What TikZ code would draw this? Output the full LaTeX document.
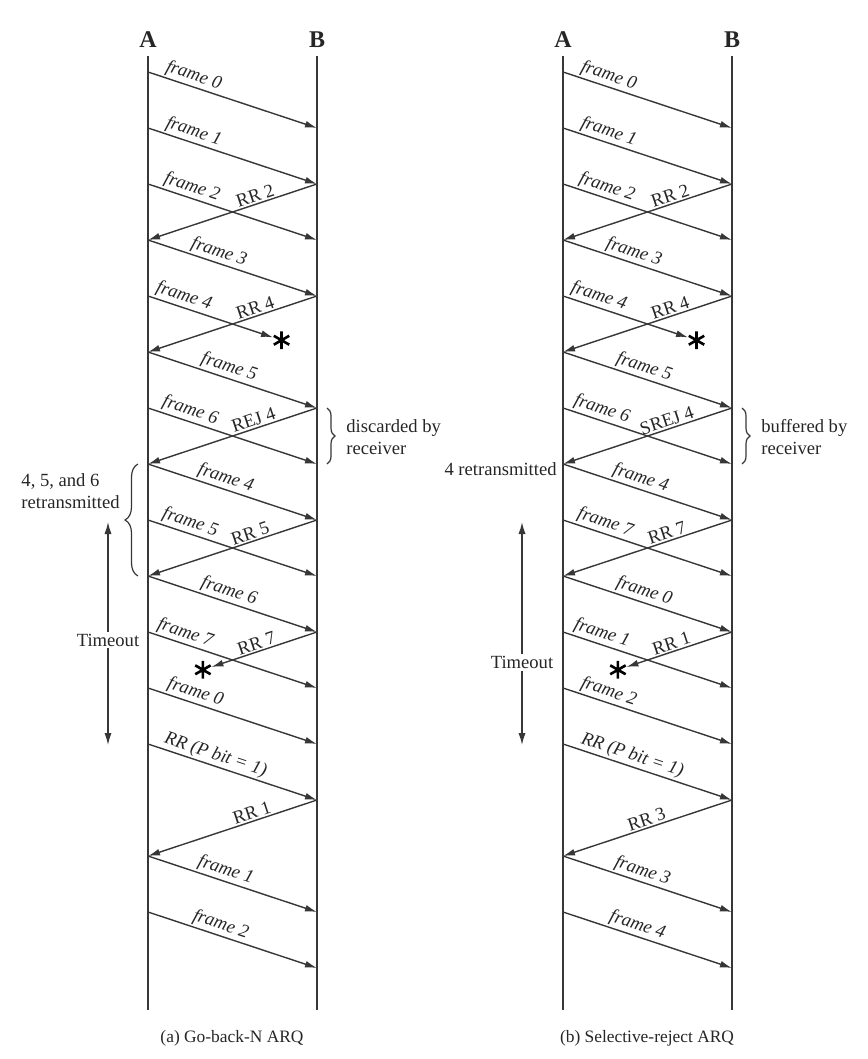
\documentclass[tikz,border=0pt]{standalone}
\usepackage{fontspec}
\setmainfont{Liberation Serif}
\usetikzlibrary{arrows.meta,positioning,calc,decorations.pathreplacing}
\definecolor{lngray}{RGB}{55,55,55}
\newcommand\lblsize{\fontsize{9.3}{11}\selectfont}
% star where a frame gets lost
\newcommand\lostmark[2]{%
  \node[lost] (#1) at (#2) {};
  \draw[starpen] (#1.90) -- (#1.270) (#1.30) -- (#1.210) (#1.150) -- (#1.330);}

\begin{document}
\begin{tikzpicture}[x=0.5pt, y=-0.5pt, every node/.style={font=\lblsize, text=black!85},
  life/.style={draw=lngray, line width=0.75pt},
  msg/.style={draw=lngray, line width=0.7pt, -{Latex[length=6pt,width=3.4pt]}},
  tmo/.style={draw=lngray, line width=0.75pt, {Latex[length=6pt,width=3.6pt]}-{Latex[length=6pt,width=3.6pt]}},
  frm/.style={above, sloped, inner sep=0.8pt, font=\lblsize\itshape},
  ack/.style={above, sloped, inner sep=0.8pt},
  station/.style={font=\fontsize{12}{14}\selectfont\bfseries, inner sep=4pt},
  lost/.style={circle, inner sep=0pt, minimum size=8.5pt},
  starpen/.style={draw=black, line width=1.3pt},
  brc/.style={draw=lngray, line width=0.6pt, decorate, decoration={brace, amplitude=#1}},
  note/.style={align=left, inner sep=0pt},
  caption/.style={font=\fontsize{8.7}{10}\selectfont}]
\useasboundingbox (0,0) rectangle (867,1059);

% (a) Go-back-N ARQ
\begin{scope}[name prefix=L-]
\foreach \t in {0,...,16} {
  \coordinate (a\t) at (148,{72+56*\t});
  \coordinate (b\t) at (317,{72+56*\t});
}
\node[station] (A) at (148,40) {A};
\node[station] (B) at (317,40) {B};
\coordinate (aend) at (148,1010);
\coordinate (bend) at (317,1010);
\draw[life] (A) -- (aend);
\draw[life] (B) -- (bend);
\draw[msg] (a0) -- node[frm, pos=0.25] {frame 0} (b1);
\draw[msg] (a1) -- node[frm, pos=0.25] {frame 1} (b2);
\draw[msg] (a2) -- node[frm, pos=0.24] {frame 2} (b3);
\draw[msg] (b2) -- node[ack, pos=0.35] {RR 2} (a3);
\draw[msg] (a3) -- node[frm, pos=0.4] {frame 3} (b4);
\lostmark{x1}{$(a4)!0.79!(b5)$}
\draw[msg] (a4) -- node[frm, pos=0.26] {frame 4} (x1);
\draw[msg] (b4) -- node[ack, pos=0.35] {RR 4} (a5);
\draw[msg] (a5) -- node[frm, pos=0.46] {frame 5} (b6);
\draw[msg] (a6) -- node[frm, pos=0.23] {frame 6} (b7);
\draw[msg] (b6) -- node[ack, pos=0.36] {REJ 4} (a7);
\draw[msg] (a7) -- node[frm, pos=0.44] {frame 4} (b8);
\draw[msg] (a8) -- node[frm, pos=0.23] {frame 5} (b9);
\draw[msg] (b8) -- node[ack, pos=0.38] {RR 5} (a9);
\draw[msg] (a9) -- node[frm, pos=0.46] {frame 6} (b10);
\draw[msg] (a10) -- node[frm, pos=0.2] {frame 7} (b11);
\lostmark{x2}{$(b10)!0.675!(a11)$}
\draw[msg] (b10) -- node[ack, pos=0.55] {RR 7} (x2);
\draw[msg] (a11) -- node[frm, pos=0.26] {frame 0} (b12);
\draw[msg] (a12) -- node[frm, pos=0.38] {RR (P bit = 1)} (b13);
\draw[msg] (b13) -- node[ack, pos=0.37] {RR 1} (a14);
\draw[msg] (a14) -- node[frm, pos=0.44] {frame 1} (b15);
\draw[msg] (a15) -- node[frm, pos=0.41] {frame 2} (b16);
% notes
\draw[brc=4pt] ([xshift=5pt]b6) -- ([xshift=5pt]b7);
\node[note, anchor=west] (disc) at (346,437) {discarded by\\receiver};
\draw[brc=6.5pt] ([xshift=-5pt]a9) -- ([xshift=-5pt]a7);
\node[note, anchor=east] (retr) at (120,491) {4, 5, and 6\\retransmitted};
\coordinate (tup) at (108,522);
\coordinate (tdn) at (108,745);
\draw[tmo] (tup) -- node[fill=white, pos=0.53, inner sep=1pt] (tlbl) {Timeout} (tdn);
\node[caption] (cap) at (232,1038) {(a) Go-back-N ARQ};
\end{scope}

% (b) Selective-reject ARQ
\begin{scope}[shift={(415,0)}, name prefix=R-]
\foreach \t in {0,...,16} {
  \coordinate (a\t) at (148,{72+56*\t});
  \coordinate (b\t) at (317,{72+56*\t});
}
\node[station] (A) at (148,40) {A};
\node[station] (B) at (317,40) {B};
\coordinate (aend) at (148,1010);
\coordinate (bend) at (317,1010);
\draw[life] (A) -- (aend);
\draw[life] (B) -- (bend);
\draw[msg] (a0) -- node[frm, pos=0.25] {frame 0} (b1);
\draw[msg] (a1) -- node[frm, pos=0.25] {frame 1} (b2);
\draw[msg] (a2) -- node[frm, pos=0.24] {frame 2} (b3);
\draw[msg] (b2) -- node[ack, pos=0.35] {RR 2} (a3);
\draw[msg] (a3) -- node[frm, pos=0.4] {frame 3} (b4);
\lostmark{x1}{$(a4)!0.79!(b5)$}
\draw[msg] (a4) -- node[frm, pos=0.26] {frame 4} (x1);
\draw[msg] (b4) -- node[ack, pos=0.35] {RR 4} (a5);
\draw[msg] (a5) -- node[frm, pos=0.46] {frame 5} (b6);
\draw[msg] (a6) -- node[frm, pos=0.21] {frame 6} (b7);
\draw[msg] (b6) -- node[ack, pos=0.37] {SREJ 4} (a7);
\draw[msg] (a7) -- node[frm, pos=0.44] {frame 4} (b8);
\draw[msg] (a8) -- node[frm, pos=0.23] {frame 7} (b9);
\draw[msg] (b8) -- node[ack, pos=0.37] {RR 7} (a9);
\draw[msg] (a9) -- node[frm, pos=0.46] {frame 0} (b10);
\draw[msg] (a10) -- node[frm, pos=0.21] {frame 1} (b11);
\lostmark{x2}{$(b10)!0.675!(a11)$}
\draw[msg] (b10) -- node[ack, pos=0.55] {RR 1} (x2);
\draw[msg] (a11) -- node[frm, pos=0.25] {frame 2} (b12);
\draw[msg] (a12) -- node[frm, pos=0.39] {RR (P bit = 1)} (b13);
\draw[msg] (b13) -- node[ack, pos=0.49] {RR 3} (a14);
\draw[msg] (a14) -- node[frm, pos=0.45] {frame 3} (b15);
\draw[msg] (a15) -- node[frm, pos=0.42] {frame 4} (b16);
% notes
\draw[brc=4pt] ([xshift=5pt]b6) -- ([xshift=5pt]b7);
\node[note, anchor=west] (buf) at (346,437) {buffered by\\receiver};
\node[note, anchor=east] (retr) at (142,469) {4 retransmitted};
\coordinate (tup) at (107,522);
\coordinate (tdn) at (107,745);
\draw[tmo] (tup) -- node[fill=white, pos=0.63, inner sep=1pt] (tlbl) {Timeout} (tdn);
\node[caption] (cap) at (232,1038) {(b) Selective-reject ARQ};
\end{scope}
\end{tikzpicture}
\end{document}
